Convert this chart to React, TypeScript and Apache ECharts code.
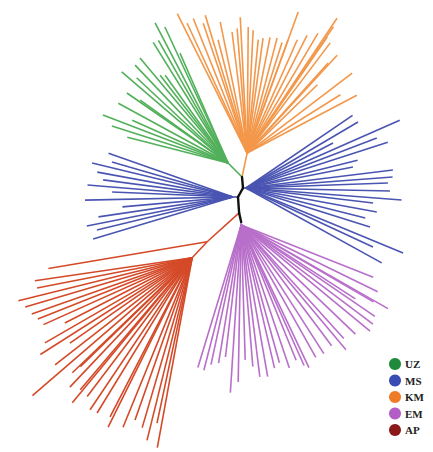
import React, { useEffect, useRef } from "react";
import * as echarts from "echarts";

// Clade names and colours
const clades = ["UZ", "MS", "KM", "EM", "AP"];
const legendColors = ["#1f8a3a", "#3a4cb4", "#f07b26", "#b35ec6", "#8a1a1a"];
const branchColors: Record<string, string> = {
  UZ: "#52b05a",
  MS: "#4a55b2",
  KM: "#f3974a",
  EM: "#b86fca",
  AP: "#d44a28",
  spine: "#111111",
};

// Internal nodes: parent, branch angle (deg), branch length, clade
const nodeIds = ["P1", "P0", "P3", "P4", "rKM", "rUZ", "rMS2", "rMS1", "apSub", "rAP", "rEM"];
const nodeParents = ["P2", "P1", "P2", "P3", "P0", "P0", "P1", "P2", "P3", "apSub", "P4"];
const nodeAngles = [61, 95, -86, -77, 78, 135, 0, 180, 222, 227, -90];
const nodeLengths = [10.3, 11, 16, 9.2, 24.5, 19.8, 3, 5, 43, 22, 3];
const nodeClades = ["spine", "spine", "spine", "spine", "KM", "UZ", "MS", "MS", "AP", "AP", "EM"];

// Leaves (angle in degrees, branch length) per clade
const uzAngles = [117.5, 114.9, 121.8, 119.6, 130.0, 139.4, 133.5, 137.0, 127.7, 125.6, 145.3, 151.4, 159.0, 162.3, 165.6, 113.6, 144.4, 155.9];
const uzLengths = [158, 150, 142, 141, 137, 140, 135, 125, 111, 108, 123, 125, 134, 122, 104, 120, 108, 105];

const kmAngles = [116.6, 114.8, 111.8, 108.7, 106.9, 101.6, 104.4, 97.1, 94.6, 92.9, 89.5, 87.2, 84.4, 82.1, 78.8, 75.4, 72.5, 70.1, 66.1, 70.1, 63.0, 59.4, 55.4, 55.7, 56.3, 53.0, 47.4, 48.0, 44.2, 37.3, 32.0, 27.8];
const kmLengths = [156, 143, 145, 137, 144, 134, 117, 122, 125, 136, 126, 123, 114, 116, 118, 119, 116, 120, 124, 150, 132, 139, 141, 153, 162, 138, 133, 121, 98, 132, 110, 124];

const msLeftAngles = [160.6, 166.4, 163.9, 169.6, 172.5, 175.3, 177.6, 181.2, 185.1, 188.4, 191.2, 193.6, 196.7];
const msLeftLengths = [132, 145, 126, 138, 131, 146, 121, 148, 111, 136, 149, 140, 146];

const msRightAngles = [34.3, 30.5, 23.8, 27.3, 20.9, 17.9, 14.0, 11.1, 7.0, 4.3, 2.0, -1.2, -4.4, -6.7, -10.4, -14.1, -17.5, -24.9, -22.5, -28.9];
const msRightLengths = [129, 130, 168, 98, 140, 149, 115, 109, 148, 147, 142, 144, 156, 128, 133, 123, 130, 140, 170, 155];

const emAngles = [253.1, 255.6, 257.8, 260.7, 263.2, 266.3, 268.9, 271.7, 274.7, 277.0, 279.9, 283.1, 285.5, 288.6, 292.1, 294.1, 295.4, 299.4, 302.7, 306.8, 312.1, 310.0, 316.3, 320.5, 323.0, 325.6, 330.3, 329.8, 333.9, 338.4, 327.1];
const emLengths = [149, 150, 143, 140, 133, 168, 157, 135, 142, 153, 154, 147, 143, 151, 146, 154, 158, 152, 153, 151, 153, 163, 158, 167, 165, 162, 169, 153, 152, 142, 136];

const apSubAngles = [189.6];
const apSubLengths = [161];
const apAngles = [188.3, 191.0, 193.9, 196.4, 199.3, 201.6, 204.2, 207.1, 210.0, 214.9, 212.5, 218.0, 223.8, 224.2, 220.8, 226.6, 229.7, 230.4, 232.9, 236.1, 238.5, 242.7, 243.6, 247.8, 250.6, 253.6, 256.1, 258.0, 259.6];
const apLengths = [159, 158, 179, 174, 170, 166, 163, 143, 170, 149, 180, 174, 166, 156, 211, 178, 173, 188, 174, 183, 182, 179, 189, 183, 172, 177, 188, 169, 193];

const leafGroups = [
  { parent: "rUZ", clade: "UZ", angles: uzAngles, lengths: uzLengths },
  { parent: "rKM", clade: "KM", angles: kmAngles, lengths: kmLengths },
  { parent: "rMS1", clade: "MS", angles: msLeftAngles, lengths: msLeftLengths },
  { parent: "rMS2", clade: "MS", angles: msRightAngles, lengths: msRightLengths },
  { parent: "rEM", clade: "EM", angles: emAngles, lengths: emLengths },
  { parent: "apSub", clade: "AP", angles: apSubAngles, lengths: apSubLengths },
  { parent: "rAP", clade: "AP", angles: apAngles, lengths: apLengths },
];

function buildEdges() {
  const pos: Record<string, [number, number]> = { P2: [0, 0] };
  const edges: Record<string, number[][][]> = { spine: [], UZ: [], MS: [], KM: [], EM: [], AP: [] };
  const step = (from: [number, number], ang: number, len: number): [number, number] => {
    const r = (ang * Math.PI) / 180;
    return [from[0] + len * Math.cos(r), from[1] + len * Math.sin(r)];
  };
  nodeIds.forEach((id, i) => {
    const p = pos[nodeParents[i]];
    const q = step(p, nodeAngles[i], nodeLengths[i]);
    pos[id] = q;
    edges[nodeClades[i]].push([p, q]);
  });
  leafGroups.forEach((g) => {
    const p = pos[g.parent];
    g.angles.forEach((a, i) => {
      edges[g.clade].push([p, step(p, a, g.lengths[i])]);
    });
  });
  return edges;
}

export default function App() {
  const ref = useRef<HTMLDivElement>(null);
  useEffect(() => {
    if (!ref.current) return;
    const chart = echarts.init(ref.current, undefined, { renderer: "svg" });
    const edges = buildEdges();
    const order = ["UZ", "KM", "MS", "EM", "AP"];
    const series: any[] = order.map((c) => ({
      name: c,
      type: "lines",
      coordinateSystem: "cartesian2d",
      silent: true,
      lineStyle: { color: branchColors[c], width: 1.6, opacity: 1 },
      data: edges[c].map((e) => ({ coords: e })),
    }));
    series.push({
      name: "spine",
      type: "lines",
      coordinateSystem: "cartesian2d",
      silent: true,
      z: 5,
      lineStyle: { color: branchColors.spine, width: 2.4, opacity: 1, cap: "round", join: "round" },
      data: edges.spine.map((e) => ({ coords: e })),
    });
    chart.setOption({
      animation: false,
      backgroundColor: "#ffffff",
      grid: { left: 0, right: 0, top: 0, bottom: 0 },
      xAxis: { type: "value", min: -238, max: 195, show: false },
      yAxis: { type: "value", min: -255, max: 197, show: false },
      legend: {
        orient: "vertical",
        left: 389,
        top: 358,
        height: 94,
        padding: 0,
        icon: "circle",
        itemWidth: 12,
        itemHeight: 12,
        itemGap: 4.5,
        selectedMode: false,
        textStyle: {
          fontFamily: "Liberation Serif, DejaVu Serif, serif",
          fontWeight: "bold",
          fontSize: 11,
          color: "#222",
          padding: [0, 0, 0, -1],
        },
        data: clades.map((c, i) => ({
          name: c,
          itemStyle: { color: legendColors[i], borderWidth: 0 },
        })),
      },
      series,
    });
    return () => chart.dispose();
  }, []);
  return (
    <div
      ref={ref}
      style={{ position: "fixed", left: 0, top: 0, width: 433, height: 452, background: "#fff" }}
    />
  );
}
